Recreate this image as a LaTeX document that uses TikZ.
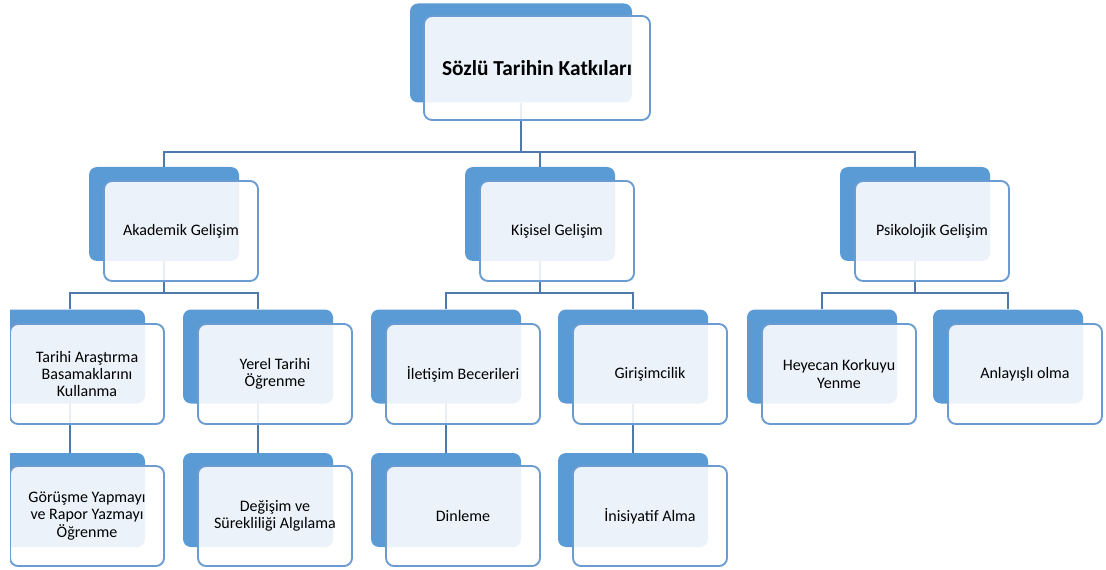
\documentclass[tikz,border=0pt]{standalone}
\usepackage{fontspec}
\setmainfont{Carlito}
\definecolor{backblue}{HTML}{5B9BD5}
\definecolor{edgeblue}{HTML}{6A9BD1}
\definecolor{linkblue}{HTML}{4E7AAB}

\begin{document}
\begin{tikzpicture}[x=0.75pt,y=-0.75pt,back/.style={rounded corners=6pt,fill=backblue,minimum width=112.5pt,minimum height=70.5pt,inner sep=0pt},card/.style={rounded corners=6pt,draw=edgeblue,line width=1.4pt,fill=white,fill opacity=0.88,text opacity=1,minimum width=115.5pt,minimum height=75pt,align=center,inner sep=2pt,font=\fontsize{12}{13}\selectfont},link/.style={draw=linkblue,line width=1.5pt}]
\useasboundingbox (0,0) rectangle (1106,570);
\clip (10,0) rectangle (1106,570);
\def\busa{152};
\def\busb{293};
\node[back,minimum width=166.5pt,minimum height=74.25pt] (Kb) at (521,53) {};
\node[back] (Ab) at (164,214) {};
\node[back] (Bb) at (540,214) {};
\node[back] (Cb) at (915,214) {};
\node[back] (A1b) at (70,356.5) {};
\node[back] (A2b) at (258,356.5) {};
\node[back] (B1b) at (446,356.5) {};
\node[back] (B2b) at (633,356.5) {};
\node[back] (C1b) at (822,356.5) {};
\node[back] (C2b) at (1008,356.5) {};
\node[back] (A11b) at (70,500) {};
\node[back] (A21b) at (258,500) {};
\node[back] (B11b) at (446,500) {};
\node[back] (B21b) at (633,500) {};
\draw[link] (Kb.south) -- (Kb.south |- 0,\busa) -| (Ab.north);
\draw[link] (Kb.south) -- (Kb.south |- 0,\busa) -| (Bb.north);
\draw[link] (Kb.south) -- (Kb.south |- 0,\busa) -| (Cb.north);
\draw[link] (Ab.south) -- (Ab.south |- 0,\busb) -| (A1b.north);
\draw[link] (Ab.south) -- (Ab.south |- 0,\busb) -| (A2b.north);
\draw[link] (Bb.south) -- (Bb.south |- 0,\busb) -| (B1b.north);
\draw[link] (Bb.south) -- (Bb.south |- 0,\busb) -| (B2b.north);
\draw[link] (Cb.south) -- (Cb.south |- 0,\busb) -| (C1b.north);
\draw[link] (Cb.south) -- (Cb.south |- 0,\busb) -| (C2b.north);
\draw[link] (A1b) -- (A11b);
\draw[link] (A2b) -- (A21b);
\draw[link] (B1b) -- (B11b);
\draw[link] (B2b) -- (B21b);
\node[card,minimum width=169.5pt,minimum height=78pt,font=\fontsize{16}{18}\selectfont\bfseries] (K) at (537,68) {\raisebox{-2pt}{Sözlü Tarihin Katkıları}};
\node[card] (A) at (181,231) {Akademik Gelişim};
\node[card] (B) at (557,231) {Kişisel Gelişim};
\node[card] (C) at (932,231) {Psikolojik Gelişim};
\node[card] (A1) at (87,374) {Tarihi Araştırma\\Basamaklarını\\Kullanma};
\node[card] (A2) at (275,374) {Yerel Tarihi\\Öğrenme};
\node[card] (B1) at (463,374) {İletişim Becerileri};
\node[card] (B2) at (650,374) {Girişimcilik};
\node[card] (C1) at (839,374) {Heyecan Korkuyu\\Yenme};
\node[card] (C2) at (1025,374) {Anlayışlı olma};
\node[card] (A11) at (87,516) {Görüşme Yapmayı\\ve Rapor Yazmayı\\Öğrenme};
\node[card] (A21) at (275,516) {Değişim ve\\Sürekliliği Algılama};
\node[card] (B11) at (463,516) {Dinleme};
\node[card] (B21) at (650,516) {İnisiyatif Alma};
\end{tikzpicture}
\end{document}
